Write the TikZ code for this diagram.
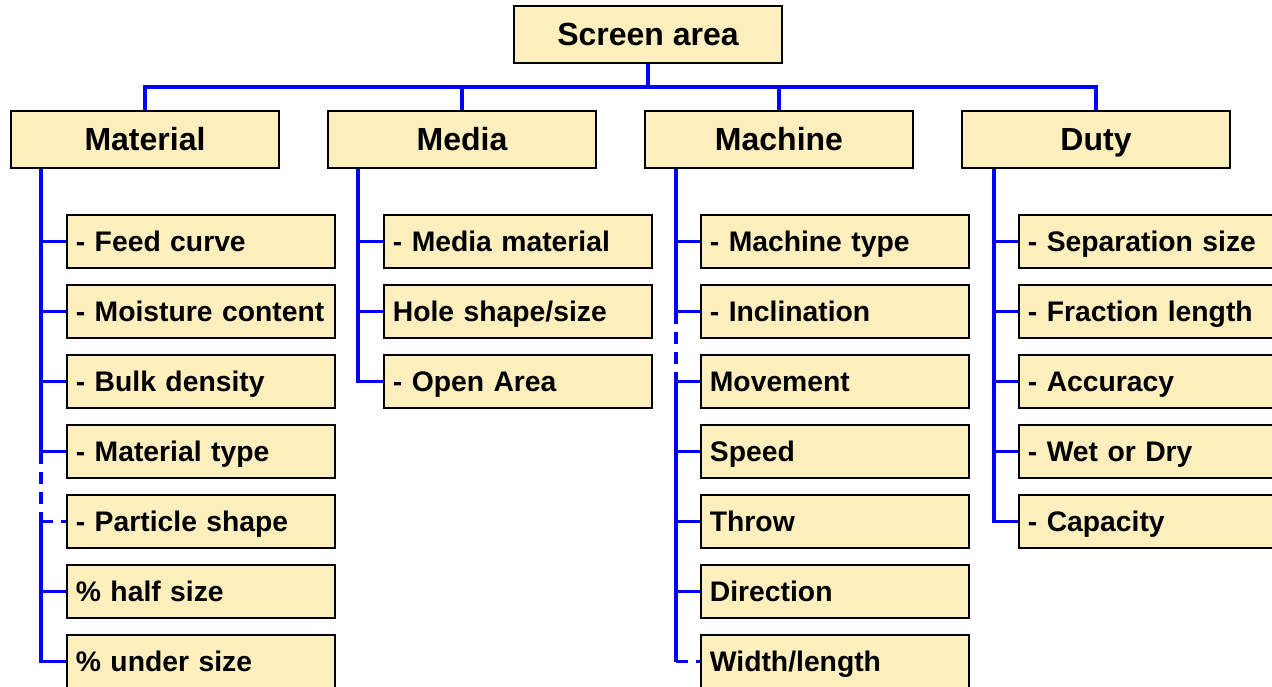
\documentclass[tikz,border=0pt]{standalone}
\usepackage{fontspec}
\setmainfont{Liberation Sans}
\usetikzlibrary{calc}
\definecolor{boxfill}{RGB}{253,238,190}
\definecolor{linkblue}{RGB}{0,0,255}
\begin{document}
\begin{tikzpicture}[x=1pt,y=-1pt,
  headbox/.style={draw=black,line width=1.8pt,fill=boxfill,minimum width=268pt,minimum height=57pt,inner sep=0pt,text height=22.9pt,text depth=0pt,font=\fontsize{32}{36}\selectfont\bfseries},
  itembox/.style={draw=black,line width=1.8pt,fill=boxfill,anchor=west,text width=250pt,inner xsep=9pt,inner ysep=0pt,minimum height=53pt,text height=20.3pt,text depth=0pt,align=left,font=\fontsize{28.3}{32}\selectfont\bfseries},
  conn/.style={draw=linkblue,line width=3.6pt},
  dconn/.style={conn,dash pattern=on 12pt off 8pt}]
\clip (0,0) rectangle (1272,686);
\useasboundingbox (0,0) rectangle (1272,686);
% top
\node[headbox] (top) at (648,34.5) {Screen area};
\node[headbox] (mat) at (145,139.5) {Material};
\node[headbox] (med) at (462,139.5) {Media};
\node[headbox] (mac) at (779,139.5) {Machine};
\node[headbox] (duty) at (1096,139.5) {Duty};
\coordinate (bus) at (0,87);
% Material children
\node[itembox] (m1) at (66,241.5) {- Feed curve};
\node[itembox] (m2) at (66,311.5) {- Moisture content};
\node[itembox] (m3) at (66,381.5) {- Bulk density};
\node[itembox] (m4) at (66,451.5) {- Material type};
\node[itembox] (m5) at (66,521.5) {- Particle shape};
\node[itembox] (m6) at (66,591.5) {\% half size};
\node[itembox] (m7) at (66,661.5) {\% under size};
% Media children
\node[itembox] (d1) at (383,241.5) {- Media material};
\node[itembox] (d2) at (383,311.5) {Hole shape/size};
\node[itembox] (d3) at (383,381.5) {- Open Area};
% Machine children
\node[itembox] (c1) at (700,241.5) {- Machine type};
\node[itembox] (c2) at (700,311.5) {- Inclination};
\node[itembox] (c3) at (700,381.5) {Movement};
\node[itembox] (c4) at (700,451.5) {Speed};
\node[itembox] (c5) at (700,521.5) {Throw};
\node[itembox] (c6) at (700,591.5) {Direction};
\node[itembox] (c7) at (700,661.5) {Width/length};
% Duty children
\node[itembox] (u1) at (1018,241.5) {- Separation size};
\node[itembox] (u2) at (1018,311.5) {- Fraction length};
\node[itembox] (u3) at (1018,381.5) {- Accuracy};
\node[itembox] (u4) at (1018,451.5) {- Wet or Dry};
\node[itembox] (u5) at (1018,521.5) {- Capacity};
% bus
\draw[conn] (top.south) -- (top.south |- bus);
\draw[conn] (mat.north) |- (duty.north |- bus) -- (duty.north);
\draw[conn] (med.north) -- (med.north |- bus);
\draw[conn] (mac.north) -- (mac.north |- bus);
% spines
\coordinate (sm) at ($(mat.south west)+(31,0)$);
\coordinate (sd) at ($(med.south west)+(31,0)$);
\coordinate (sc) at ($(mac.south west)+(32,0)$);
\coordinate (su) at ($(duty.south west)+(33,0)$);
% Material
\draw[conn] (sm) -- (sm |- m4.west);
\draw[dconn] (sm |- m4.west) -- (sm |- m5.west);
\draw[conn] (sm |- m5.west) |- (m7.west);
\foreach \n in {m1,m2,m3,m4,m6} \draw[conn] (sm |- \n.west) -- (\n.west);
\draw[dconn] (sm |- m5.west) -- (m5.west);
% Media
\draw[conn] (sd) |- (d3.west);
\foreach \n in {d1,d2} \draw[conn] (sd |- \n.west) -- (\n.west);
% Machine
\draw[conn] (sc) -- (sc |- c2.west);
\draw[dconn] (sc |- c2.west) -- (sc |- c3.west);
\draw[conn] (sc |- c3.west) -- (sc |- c7.west);
\foreach \n in {c1,c2,c3,c4,c5,c6} \draw[conn] (sc |- \n.west) -- (\n.west);
\draw[dconn] (sc |- c7.west) -- (c7.west);
% Duty
\draw[conn] (su) |- (u5.west);
\foreach \n in {u1,u2,u3,u4} \draw[conn] (su |- \n.west) -- (\n.west);
\end{tikzpicture}
\end{document}
